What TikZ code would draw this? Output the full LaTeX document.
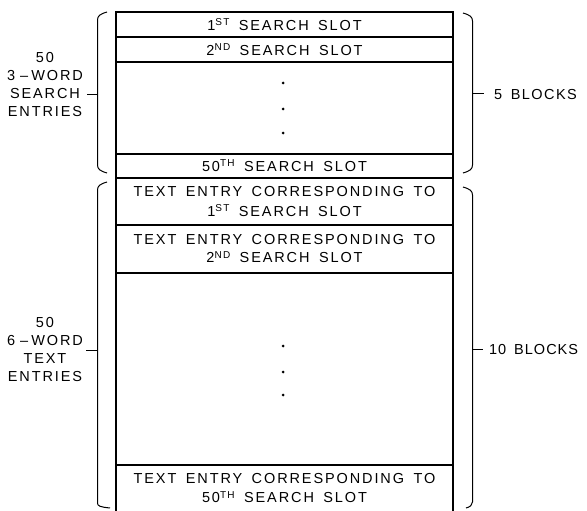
\documentclass[tikz,border=0pt]{standalone}
\usepackage{fontspec}
\setmainfont{Liberation Sans}[LetterSpace=13, WordSpace=1.6]
\newcommand\ordsup[1]{\raisebox{4.8pt}{\fontsize{10}{10}\selectfont #1}}
\begin{document}
\begin{tikzpicture}[x=1pt,y=-1pt,
  every node/.style={inner sep=0pt, outer sep=0pt},
  txt/.style={font=\fontsize{14.5}{19}\selectfont, align=center},
  row/.style={draw, line width=1.1pt, minimum width=337pt, align=center, font=\fontsize{14.5}{19}\selectfont},
  brace/.style={line width=1pt, line join=round},
  dot/.style={circle, fill, minimum size=3pt}]
\useasboundingbox (0,0) rectangle (587,511);
% rows
\node[row, minimum height=25pt] (r1) at (284.5,24.5) {1\ordsup{ST} SEARCH SLOT};
\node[row, minimum height=25pt] (r2) at (284.5,49.5) {2\ordsup{ND} SEARCH SLOT};
\node[row, minimum height=92pt] (r3) at (284.5,108) {};
\node[row, minimum height=24pt] (r4) at (284.5,166) {50\ordsup{TH} SEARCH SLOT};
\node[row, minimum height=47pt, font=\fontsize{14.5}{20}\selectfont] (r5) at (284.5,201.5) {TEXT ENTRY CORRESPONDING TO\\1\ordsup{ST} SEARCH SLOT};
\node[row, minimum height=48pt, font=\fontsize{14.5}{18}\selectfont] (r6) at (284.5,249) {TEXT ENTRY CORRESPONDING TO\\2\ordsup{ND} SEARCH SLOT};
\node[row, minimum height=192pt] (r7) at (284.5,369) {};
\node[txt] (r8) at (284.5,488.5) {TEXT ENTRY CORRESPONDING TO\\50\ordsup{TH} SEARCH SLOT};
\draw[line width=1.1pt] (r7.south west) -- (116,512);
\draw[line width=1.1pt] (r7.south east) -- (453,512);
% dots
\node[dot] (d1) at (283,83) {};
\node[dot] (d2) at (283,109) {};
\node[dot] (d3) at (283,133) {};
\node[dot] (d4) at (283,346) {};
\node[dot] (d5) at (283,372) {};
\node[dot] (d6) at (283,395) {};
% left labels
\node[txt, font=\fontsize{14.5}{18}\selectfont] (l1) at (45,85) {50\\3\hspace{5pt}–\hspace{3pt}WORD\\SEARCH\\ENTRIES};
\node[txt, font=\fontsize{14.5}{18.3}\selectfont] (l2) at (45,349.5) {50\\6\hspace{5pt}–\hspace{3pt}WORD\\TEXT\\ENTRIES};
% right labels
\node[txt, anchor=west] (b1) at (494,94.5) {\addfontfeature{LetterSpace=10}5 BLOCKS};
\node[txt, anchor=west] (b2) at (489,349.5) {\addfontfeature{LetterSpace=7}10 BLOCKS};
% braces
\draw[brace] (107,12) .. controls (100,14) and (97.5,16) .. (97.5,20) -- (97.5,165) .. controls (97.5,169) and (100,171) .. (107,173);
\draw[brace] (97.5,95) -- (87,95);
\draw[brace] (107,182) .. controls (100,184) and (97.5,186) .. (97.5,190) -- (97.5,503) .. controls (97.5,506) and (100,507) .. (110,508);
\draw[brace] (97.5,350) -- (86,350);
\draw[brace] (463,13) .. controls (470,15) and (472.5,17) .. (472.5,21) -- (472.5,165) .. controls (472.5,169) and (470,171) .. (463,173);
\draw[brace] (472.5,94) -- (484,94);
\draw[brace] (463,187) .. controls (470,189) and (472.5,191) .. (472.5,195) -- (472.5,502) .. controls (472.5,505) and (470,507) .. (466,508);
\draw[brace] (472.5,349) -- (483,349);
\end{tikzpicture}
\end{document}
